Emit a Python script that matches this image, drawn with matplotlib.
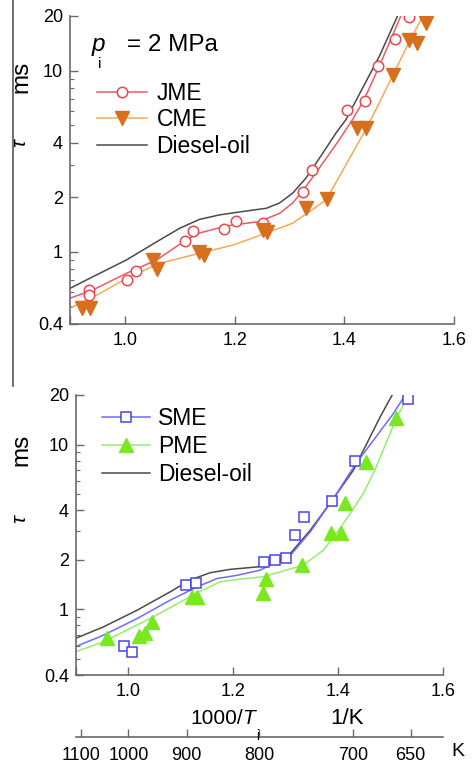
import matplotlib
matplotlib.use("Agg")
import matplotlib.pyplot as plt
from matplotlib.ticker import FixedLocator, NullFormatter
from matplotlib.lines import Line2D

plt.rcParams["font.family"] = ["Liberation Sans", "DejaVu Sans"]

W, H = 472, 769

# ---- top panel data (1000/T, ignition delay ms) ----
jme_x = [0.934, 0.934, 1.003, 1.020, 1.110, 1.124, 1.181, 1.202, 1.251, 1.324, 1.341, 1.405, 1.437, 1.461, 1.493, 1.518]
jme_y = [0.617, 0.578, 0.70, 0.785, 1.15, 1.31, 1.33, 1.48, 1.44, 2.15, 2.84, 6.08, 6.82, 10.56, 14.96, 19.8]
cme_x = [0.921, 0.936, 1.051, 1.058, 1.135, 1.144, 1.251, 1.260, 1.330, 1.369, 1.424, 1.439, 1.489, 1.518, 1.533, 1.549]
cme_y = [0.489, 0.489, 0.903, 0.80, 1.00, 0.96, 1.32, 1.29, 1.74, 1.95, 4.82, 4.82, 9.5, 14.8, 14.2, 18.2]

jme_fit_x = [0.90, 0.942, 1.003, 1.058, 1.112, 1.136, 1.185, 1.245, 1.282, 1.306, 1.330, 1.361, 1.391, 1.415, 1.436, 1.464, 1.503]
jme_fit_y = [0.555, 0.617, 0.762, 0.903, 1.165, 1.27, 1.39, 1.47, 1.63, 1.86, 2.29, 3.09, 4.16, 5.36, 6.9, 10.6, 20.0]
cme_fit_x = [0.90, 0.955, 1.003, 1.064, 1.136, 1.197, 1.258, 1.306, 1.342, 1.367, 1.391, 1.415, 1.439, 1.46, 1.489, 1.518, 1.545]
cme_fit_y = [0.489, 0.591, 0.715, 0.865, 0.982, 1.09, 1.27, 1.44, 1.71, 1.94, 2.6, 3.51, 4.72, 6.3, 9.5, 14.3, 20.5]
dsl1_x = [0.90, 0.942, 1.003, 1.064, 1.10, 1.136, 1.173, 1.209, 1.258, 1.282, 1.306, 1.330, 1.361, 1.385, 1.403, 1.464, 1.497]
dsl1_y = [0.629, 0.73, 0.903, 1.165, 1.35, 1.51, 1.60, 1.66, 1.74, 1.86, 2.11, 2.55, 3.51, 4.53, 5.36, 12.0, 20.0]

# ---- bottom panel data ----
sme_x = [0.992, 1.006, 1.110, 1.129, 1.259, 1.279, 1.301, 1.317, 1.335, 1.389, 1.433, 1.533]
sme_y = [0.60, 0.55, 1.40, 1.44, 1.95, 1.99, 2.06, 2.82, 3.64, 4.53, 7.93, 18.8]
pme_x = [0.959, 1.020, 1.032, 1.045, 1.121, 1.130, 1.257, 1.263, 1.332, 1.386, 1.405, 1.413, 1.453, 1.510]
pme_y = [0.667, 0.689, 0.721, 0.841, 1.19, 1.19, 1.25, 1.52, 1.86, 2.89, 2.89, 4.43, 7.85, 14.5]

sme_fit_x = [0.899, 0.953, 1.017, 1.08, 1.131, 1.169, 1.207, 1.251, 1.270, 1.309, 1.347, 1.391, 1.433, 1.47, 1.505, 1.528]
sme_fit_y = [0.594, 0.699, 0.882, 1.14, 1.37, 1.54, 1.61, 1.73, 1.86, 2.13, 2.96, 4.71, 7.6, 10.9, 15.4, 20.0]
pme_fit_x = [0.899, 0.953, 1.048, 1.131, 1.175, 1.207, 1.258, 1.334, 1.372, 1.41, 1.448, 1.47, 1.512, 1.535]
pme_fit_y = [0.553, 0.637, 0.903, 1.26, 1.47, 1.52, 1.58, 1.86, 2.29, 3.32, 5.05, 7.0, 14.7, 20.0]
dsl2_x = [0.899, 0.953, 1.017, 1.08, 1.118, 1.156, 1.194, 1.245, 1.283, 1.309, 1.347, 1.391, 1.429, 1.455, 1.48, 1.503]
dsl2_y = [0.667, 0.785, 0.991, 1.28, 1.51, 1.67, 1.75, 1.81, 1.95, 2.19, 3.03, 4.71, 6.99, 10.2, 14.7, 20.0]

y_major = [0.4, 1, 2, 4, 10, 20]
y_minor = [0.5, 0.6, 0.7, 0.8, 0.9, 3, 5, 6, 7, 8, 9]
x_major = [0.9, 1.0, 1.2, 1.4, 1.6]
x_labels = ["", "1.0", "1.2", "1.4", "1.6"]
temps = [1100, 1000, 900, 800, 700, 650]

spine_c = "#6a6a6a"
red, red_line = "#e8474f", "#ea5c63"
orange, orange_line = "#d86f1c", "#f4ab55"
blue, blue_line = "#4a43ee", "#6e6cff"
green, green_line = "#79e81f", "#93ef6d"
black = "#4a4a4a"

fig = plt.figure(figsize=(W / 100, H / 100), dpi=100)


def px(x0, y0, x1, y1):
    return [x0 / W, 1 - y1 / H, (x1 - x0) / W, (y1 - y0) / H]


def style(ax):
    ax.set_yscale("log")
    ax.set_xlim(0.9, 1.6)
    ax.set_ylim(0.4, 20)
    for s in ["top", "right"]:
        ax.spines[s].set_visible(False)
    for s in ["left", "bottom"]:
        ax.spines[s].set_color(spine_c)
        ax.spines[s].set_linewidth(1.2)
    ax.yaxis.set_major_locator(FixedLocator(y_major))
    ax.yaxis.set_minor_locator(FixedLocator(y_minor))
    ax.yaxis.set_minor_formatter(NullFormatter())
    ax.set_yticklabels(["0.4", "1", "2", "4", "10", "20"])
    ax.set_xticks(x_major)
    ax.set_xticklabels(x_labels)
    ax.tick_params(which="major", direction="in", length=6, width=1, color=spine_c,
                   labelsize=13, pad=6)
    ax.tick_params(which="minor", direction="in", length=3, width=0.8, color=spine_c)
    ax.tick_params(axis="y", which="major", pad=5)


# top panel
ax1 = fig.add_axes(px(70, 16, 454, 324))
style(ax1)
ax1.plot(dsl1_x, dsl1_y, color=black, lw=1.1)
ax1.plot(jme_fit_x, jme_fit_y, color=red_line, lw=1.1)
ax1.plot(cme_fit_x, cme_fit_y, color=orange_line, lw=1.1)
ax1.plot(jme_x, jme_y, ls="none", marker="o", ms=7.5, mfc="white", mec=red, mew=1.1)
ax1.plot(cme_x, cme_y, ls="none", marker="v", ms=9.5, mfc=orange, mec=orange)

h1 = [Line2D([], [], color=red_line, lw=1.1, marker="o", ms=7.5, mfc="white", mec=red, mew=1.1),
      Line2D([], [], color=orange_line, lw=1.1, marker="v", ms=9.5, mfc=orange, mec=orange),
      Line2D([], [], color=black, lw=1.1)]
fig.legend(h1, ["JME", "CME", "Diesel-oil"], loc="upper left",
           bbox_to_anchor=(97 / W, 1 - 82 / H), frameon=False, fontsize=16.5,
           handlelength=2.2, handletextpad=0.4, labelspacing=0.15,
           borderpad=0, borderaxespad=0)

fig.text(92 / W, 1 - 45 / H, "p", fontsize=17.5, style="italic", va="center")
fig.text(98 / W, 1 - 64 / H, "i", fontsize=11, va="center")
fig.text(127 / W, 1 - 45 / H, "= 2 MPa", fontsize=17.5, va="center")

# bottom panel
ax2 = fig.add_axes(px(76, 395, 443, 675))
style(ax2)
ax2.plot(dsl2_x, dsl2_y, color=black, lw=1.1)
ax2.plot(sme_fit_x, sme_fit_y, color=blue_line, lw=1.1)
ax2.plot(pme_fit_x, pme_fit_y, color=green_line, lw=1.1)
ax2.plot(sme_x, sme_y, ls="none", marker="s", ms=7, mfc="white", mec=blue, mew=1.1)
ax2.plot(pme_x, pme_y, ls="none", marker="^", ms=9.5, mfc=green, mec=green)

h2 = [Line2D([], [], color=blue_line, lw=1.1, marker="s", ms=7, mfc="white", mec=blue, mew=1.1),
      Line2D([], [], color=green_line, lw=1.1, marker="^", ms=9.5, mfc=green, mec=green),
      Line2D([], [], color=black, lw=1.1)]
fig.legend(h2, ["SME", "PME", "Diesel-oil"], loc="upper left",
           bbox_to_anchor=(102 / W, 1 - 407 / H), frameon=False, fontsize=16.5,
           handlelength=2.1, handletextpad=0.35, labelspacing=0.22,
           borderpad=0, borderaxespad=0)

# y labels
for yc_ms, yc_tau in [(77, 143), (450, 519)]:
    fig.text(21 / W, 1 - yc_ms / H, "ms", fontsize=17.5, rotation=90, ha="center", va="center")
    fig.text(20 / W, 1 - yc_tau / H, "τ", fontsize=15, rotation=90, style="italic",
             ha="center", va="center")

# x label of bottom panel
fig.text(190 / W, 1 - 719 / H, "1000/", fontsize=15, va="center")
fig.text(242 / W, 1 - 719 / H, "T", fontsize=15, style="italic", va="center")
fig.text(256 / W, 1 - 736 / H, "i", fontsize=10, va="center")
fig.text(330 / W, 1 - 719 / H, "1/K", fontsize=16, va="center")

# temperature scale
ax3 = fig.add_axes(px(76, 727, 443, 737))
ax3.set_xlim(0.9, 1.6)
ax3.set_yticks([])
for s in ["top", "right", "left"]:
    ax3.spines[s].set_visible(False)
ax3.spines["bottom"].set_color(spine_c)
ax3.spines["bottom"].set_linewidth(1.2)
ax3.patch.set_alpha(0)
ax3.set_xticks([1000 / t for t in temps])
ax3.set_xticklabels([str(t) for t in temps])
ax3.tick_params(axis="x", direction="in", length=6, width=1, color=spine_c, labelsize=13, pad=7)
fig.text(458 / W, 1 - 751 / H, "K", fontsize=14, ha="center", va="center")

# stray vertical rule on the left of the upper panel
fig.add_artist(Line2D([13 / W, 13 / W], [1, 1 - 386 / H], color="#555555", lw=1.2))

fig.savefig("out.png", dpi=100)
